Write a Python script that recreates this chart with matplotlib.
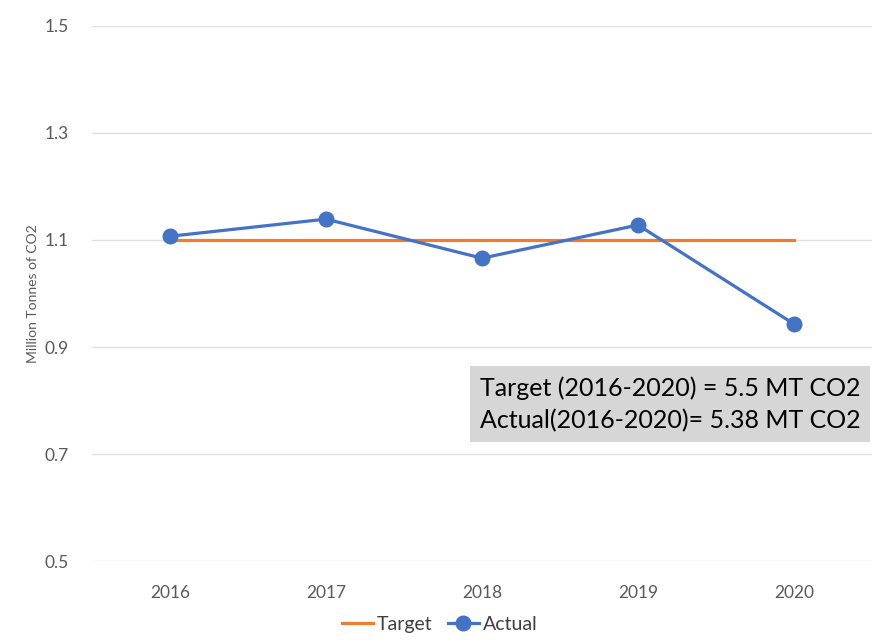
import matplotlib
matplotlib.use("Agg")
import matplotlib.pyplot as plt

years = ["2016", "2017", "2018", "2019", "2020"]
target = [1.1, 1.1, 1.1, 1.1, 1.1]
actual = [1.107, 1.139, 1.066, 1.128, 0.943]
y_ticks = [0.5, 0.7, 0.9, 1.1, 1.3, 1.5]
note = "Target (2016-2020) = 5.5 MT CO2\nActual(2016-2020)= 5.38 MT CO2"

plt.rcParams['font.family'] = ['Lato', 'DejaVu Sans']

fig = plt.figure(figsize=(8.74, 6.43), dpi=100)
ax = fig.add_axes([0.1053, 0.1275, 0.8924, 0.8321])

x = list(range(len(years)))
ax.plot(x, target, color='#ED7D31', lw=2.3, label='Target', zorder=3)
ax.plot(x, actual, color='#4472C4', lw=2.3, marker='o', markersize=10.5,
        label='Actual', zorder=4)

ax.set_xlim(-0.5, 4.5)
ax.set_ylim(0.5, 1.5)
ax.set_yticks(y_ticks)
ax.set_yticklabels([f"{v:.1f}" for v in y_ticks])
ax.set_xticks(x)
ax.set_xticklabels(years)
ax.tick_params(length=0, labelsize=12.5, colors='#595959')
ax.tick_params(axis='x', pad=17)
ax.tick_params(axis='y', pad=17)
ax.grid(axis='y', color='#e0e0e0', lw=1)
ax.set_axisbelow(True)
for s in ax.spines.values():
    s.set_visible(False)

ax.set_ylabel("Million Tonnes of CO2", fontsize=10, color='#595959', labelpad=4)

ax.text(0.497, 0.293, note, transform=ax.transAxes, fontsize=18,
        color='black', va='center', ha='left', linespacing=1.45,
        bbox=dict(boxstyle='square,pad=0.4', fc='#d6d6d6', ec='none'),
        zorder=5)

fig.legend(loc='lower center', bbox_to_anchor=(0.503, -0.012), ncol=2,
           frameon=False, fontsize=14, handlelength=1.6, columnspacing=0.8,
           handletextpad=0.2, labelcolor='#404040')

fig.savefig("out.png", dpi=100)
